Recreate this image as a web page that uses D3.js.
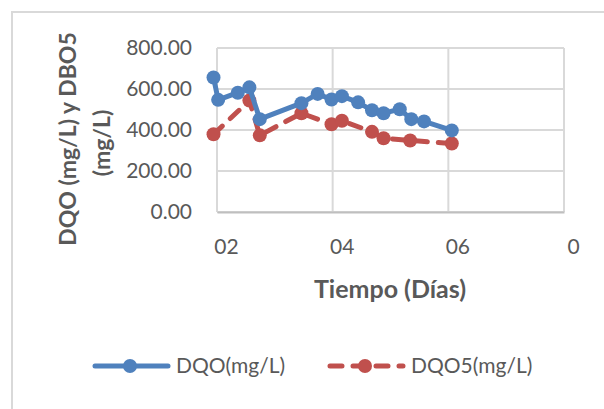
<!DOCTYPE html>
<html>
<head>
<meta charset="utf-8">
<script src="https://cdn.jsdelivr.net/npm/d3@7"></script>
<style>
    body { margin: 0; background: #fff; }
    svg text { font-family: Lato, "Open Sans", sans-serif; fill: #595959; }
</style>
</head>
<body>
<div id="chart"></div>
<script>
"use strict";

// Series values (x in days, y in mg/L).
const dqoDays = [0.7, 1.1, 2.8, 3.8, 4.7, 8.3, 9.7, 10.9, 11.8, 13.2, 14.4, 15.4, 16.8, 17.8, 18.9, 21.3];
const dqoValues = [656, 547, 582, 608, 453, 531, 576, 549, 565, 535, 496, 482, 501, 453, 442, 398];
const dbo5Days = [0.7, 3.8, 4.7, 8.3, 10.9, 11.8, 14.4, 15.4, 17.7, 21.3];
const dbo5Values = [379, 544, 374, 482, 428, 445, 391, 360, 349, 334];

const xTicks = [1, 11, 21, 31];
const xTickLabels = ["02", "04", "06", "0"];
const yTicks = [0, 200, 400, 600, 800];
const seriesNames = ["DQO(mg/L)", "DQO5(mg/L)"];

const width = 604, height = 409;
const plot = {left: 217, right: 564, top: 48, bottom: 212};
const blue = "#4F81BD", red = "#C0504D", grid = "#D9D9D9";

const svg = d3.select("#chart")
    .append("svg")
    .attr("width", width)
    .attr("height", height);

// Chart frame (runs off the right and bottom edges).
svg.append("rect")
    .attr("x", 12).attr("y", 12)
    .attr("width", 700).attr("height", 500)
    .attr("fill", "none")
    .attr("stroke", grid)
    .attr("stroke-width", 2);

const xScale = d3.scaleLinear()
    .domain([xTicks[0], xTicks[xTicks.length - 1]])
    .range([plot.left, plot.right]);
const yScale = d3.scaleLinear()
    .domain([0, 800])
    .range([plot.bottom, plot.top]);

// Gridlines
const g = svg.append("g");
g.selectAll(".hgrid")
    .data(yTicks)
    .enter().append("line")
    .attr("x1", plot.left).attr("x2", plot.right)
    .attr("y1", d => yScale(d)).attr("y2", d => yScale(d))
    .attr("stroke", grid).attr("stroke-width", 2);
g.selectAll(".vgrid")
    .data(xTicks)
    .enter().append("line")
    .attr("x1", d => xScale(d)).attr("x2", d => xScale(d))
    .attr("y1", plot.top).attr("y2", plot.bottom)
    .attr("stroke", grid).attr("stroke-width", 2);

// Axes
const yAxis = d3.axisLeft(yScale)
    .tickValues(yTicks)
    .tickSize(0)
    .tickPadding(25)
    .tickFormat(d3.format(".2f"));
svg.append("g")
    .attr("transform", `translate(${plot.left},0)`)
    .call(yAxis)
    .call(s => s.select(".domain").remove())
    .selectAll("text")
    .style("font-size", "21px");

const xAxis = d3.axisBottom(xScale)
    .tickValues(xTicks)
    .tickSize(0)
    .tickPadding(27)
    .tickFormat((d, i) => xTickLabels[i]);
svg.append("g")
    .attr("transform", `translate(0,${plot.bottom})`)
    .call(xAxis)
    .call(s => s.select(".domain")
        .attr("stroke", "#BFBFBF").attr("stroke-width", 2))
    .selectAll("text")
    .attr("dx", 9)
    .style("font-size", "21px");

// Axis titles
svg.append("text")
    .attr("text-anchor", "middle")
    .attr("transform", "translate(76,139) rotate(-90)")
    .style("font-size", "23px").style("font-weight", "bold")
    .text("DQO (mg/L) y DBO5");
svg.append("text")
    .attr("text-anchor", "middle")
    .attr("transform", "translate(110,143) rotate(-90)")
    .style("font-size", "23px").style("font-weight", "bold")
    .text("(mg/L)");
svg.append("text")
    .attr("text-anchor", "middle")
    .attr("x", 390).attr("y", 298)
    .style("font-size", "25px").style("font-weight", "bold")
    .text("Tiempo (Días)");

// Series
const line = d3.line()
    .x(d => xScale(d[0]))
    .y(d => yScale(d[1]));

const dqo = d3.zip(dqoDays, dqoValues);
const dbo5 = d3.zip(dbo5Days, dbo5Values);

svg.append("path")
    .datum(dbo5)
    .attr("d", line)
    .attr("fill", "none")
    .attr("stroke", red)
    .attr("stroke-width", 5)
    .attr("stroke-linecap", "round")
    .attr("stroke-dasharray", "12,11");
svg.selectAll(".dbo5-pt")
    .data(dbo5)
    .enter().append("circle")
    .attr("cx", d => xScale(d[0]))
    .attr("cy", d => yScale(d[1]))
    .attr("r", 7)
    .attr("fill", red);

svg.append("path")
    .datum(dqo)
    .attr("d", line)
    .attr("fill", "none")
    .attr("stroke", blue)
    .attr("stroke-width", 5)
    .attr("stroke-linejoin", "round");
svg.selectAll(".dqo-pt")
    .data(dqo)
    .enter().append("circle")
    .attr("cx", d => xScale(d[0]))
    .attr("cy", d => yScale(d[1]))
    .attr("r", 7)
    .attr("fill", blue);

// Legend
const legend = [
    {name: seriesNames[0], color: blue, dash: null, x: 95},
    {name: seriesNames[1], color: red, dash: "12,11", x: 330}
];
const lg = svg.selectAll(".legend")
    .data(legend)
    .enter().append("g")
    .attr("transform", d => `translate(${d.x},366)`);
lg.append("line")
    .attr("x1", 0).attr("x2", 73)
    .attr("stroke", d => d.color)
    .attr("stroke-width", 5)
    .attr("stroke-linecap", "round")
    .attr("stroke-dasharray", d => d.dash);
lg.append("circle")
    .attr("cx", 35).attr("r", 7)
    .attr("fill", d => d.color);
lg.append("text")
    .attr("x", 81).attr("dy", "0.35em")
    .style("font-size", "21px")
    .text(d => d.name);
</script>
</body>
</html>
